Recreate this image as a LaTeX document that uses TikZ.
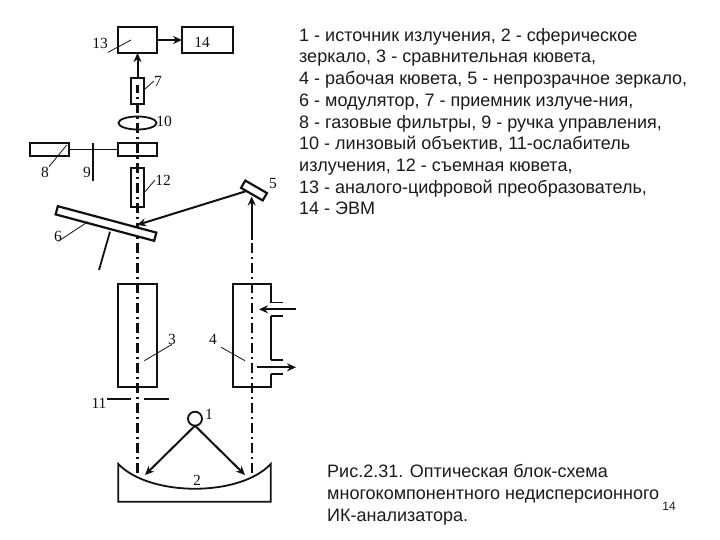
\documentclass[tikz,border=0pt]{standalone}
\usepackage{fontspec}
\setmainfont{Liberation Sans}
\newfontfamily\cifry{Liberation Serif}
\usepackage{xcolor}
\usepackage{tikz}
\usetikzlibrary{arrows.meta,positioning,calc,shapes.geometric}
\definecolor{Chern}{HTML}{111111}
\definecolor{Tekst}{HTML}{1A1A1A}
\tikzset{
  blok/.style={draw=Chern,line width=2.2pt,minimum width=39pt,minimum height=26pt,inner sep=0pt,outer sep=0pt},
  kyuveta/.style={blok,minimum width=13pt,minimum height=39pt},
  zerkalo/.style={blok,fill=white,minimum height=8.5pt},
  os/.style={draw=Chern,line width=2.2pt,dash pattern=on 10pt off 4pt on 2pt off 4pt},
  liniya/.style={draw=Chern,line width=1.8pt},
  strelka/.style={draw=Chern,line width=2pt,-{Stealth[length=9pt,width=8pt]}},
  vynoska/.style={draw=Chern,line width=0.8pt},
  metka/.style={font=\cifry\fontsize{15.5}{15.5}\selectfont,text=Chern,inner sep=0pt},
  opis/.style={font=\fontsize{18}{21.7}\selectfont,text=Tekst,align=left,anchor=north west,inner sep=0pt}
}
\begin{document}
\begin{tikzpicture}[x=1pt,y=-1pt]
\useasboundingbox (0,0) rectangle (720,540);
% optical axes
\draw[os] (137.5,473) -- (137.5,85);
\draw[os] (251.7,473) -- (251.7,205);
% boxes
\node[blok] (b13) at (137.5,40) {};
\node[blok,minimum width=51pt] (b14) at (207.5,40) {};
\node[kyuveta,minimum height=26pt] (b7) at (137.5,91) {};
\node[blok,ellipse,line width=1.8pt,minimum width=38pt,minimum height=13pt] (lens) at (137.5,123) {};
\node[blok,minimum height=13pt] (mod) at (137.5,149.5) {};
\node[blok,minimum height=13pt] (b8) at (49.5,149.5) {};
\node[kyuveta] (b12) at (137.5,187.5) {};
\node[zerkalo,minimum width=102pt,rotate=-15] (m6) at (106,223.5) {};
\node[zerkalo,minimum width=25pt,rotate=-30] (m5) at (254,190.5) {};
\node[blok,minimum height=103pt] (b3) at (137.5,335.5) {};
\node[circle,draw=Chern,line width=1.8pt,fill=white,minimum size=14pt,inner sep=0pt,outer sep=0pt] (ist) at (195,418.7) {};
% modulator drive
\coordinate (r9a) at (92.7,143);
\coordinate (r9b) at (92.7,181);
\draw[liniya] (b8) -- (mod);
\draw[liniya] (r9a) -- (r9b);
\draw[liniya] (110,231.7) -- (99,270);
% working cell
\draw[draw=Chern,line width=2.2pt] (270.7,302.7) -- (270.7,284) -- (232.7,284) -- (232.7,387) -- (270.7,387) -- (270.7,374);
\draw[draw=Chern,line width=2.2pt] (270.7,316) -- (270.7,360);
\foreach \y in {302.7,316,360,374}
  \draw[draw=Chern,line width=1.5pt] (270.7,\y) -- (283,\y);
\coordinate (vhod) at (296,309.3);
\coordinate (vhodk) at (259,309.3);
\coordinate (vyhod) at (257,367.3);
\coordinate (vyhodk) at (296,367.3);
\draw[strelka] (vhod) -- (vhodk);
\draw[strelka] (vyhod) -- (vyhodk);
% slit
\draw[liniya] (107,399) -- (131,399);
\draw[liniya] (144,399) -- (169,399);
% spherical mirror
\draw[liniya] (118.3,464) .. controls (150,497) and (240,497) .. (270.7,464) -- (270.7,501.7) -- (118.3,501.7) -- cycle;
% beams
\coordinate (m2l) at (145,475);
\coordinate (m2r) at (245,475);
\coordinate (m6p) at (137,225);
\coordinate (a5) at (251.7,240);
\draw[strelka] (ist.south) -- (m2l);
\draw[strelka] (ist.south) -- (m2r);
\draw[strelka] ($(m5.south west)!0.25!(m5.south east)$) -- (m6p);
\draw[strelka] (a5) -- (251.7,196.5);
\draw[strelka] (b7) -- (b13);
\draw[strelka] (b13) -- (b14);
% labels
\node[metka] (l13) at (100,43) {13};
\node[metka] (l14) at (202,42) {14};
\node[metka] (l7) at (158,81) {7};
\node[metka] (l10) at (164,121) {10};
\node[metka] (l8) at (45,172) {8};
\node[metka] (l9) at (87,172) {9};
\node[metka] (l12) at (163,180) {12};
\node[metka] (l5) at (273,184) {5};
\node[metka] (l6) at (58,236) {6};
\node[metka] (l3) at (172,339) {3};
\node[metka] (l4) at (213,339) {4};
\node[metka] (l11) at (99,403) {11};
\node[metka] (l1) at (209,414) {1};
\node[metka] (l2) at (197,480) {2};
% leaders
\coordinate (p13) at (131,40);
\coordinate (p7) at (145,89);
\coordinate (p8) at (66.7,145);
\coordinate (p12) at (145,191.7);
\coordinate (p6) at (88,221.7);
\coordinate (p3) at (144.3,360.7);
\coordinate (p4) at (245,360.7);
\draw[vynoska] ($(l13.south east)+(0,4)$) -- (p13);
\draw[vynoska] (l7.west) -- (p7);
\draw[vynoska] (l8.north east) -- (p8);
\draw[vynoska] (l12.west) -- (p12);
\draw[vynoska] (l6.south) -- (p6);
\draw[vynoska] (l3.south) -- (p3);
\draw[vynoska] ($(l4.south east)+(4,3)$) -- (p4);
% text
\node[opis] (spisok) at (299,28) {1 - источник излучения, 2 - сферическое\\
зеркало, 3 - сравнительная кювета,\\
4 - рабочая кювета, 5 - непрозрачное зеркало,\\
6 - модулятор, 7 - приемник излуче-ния,\\
8 - газовые фильтры, 9 - ручка управления,\\
10 - линзовый объектив, 11-ослабитель\\
излучения, 12 - съемная кювета,\\
13 - аналого-цифровой преобразователь,\\
14 - ЭВМ};
\node[opis] (podpis) at (327,464.5) {Рис.2.31. Оптическая блок-схема\\
многокомпонентного недисперсионного\\
ИК-анализатора.};
\node[font=\fontsize{12}{12}\selectfont,text=Tekst,inner sep=0pt] (nomer) at (669,506) {14};
\end{tikzpicture}
\end{document}
